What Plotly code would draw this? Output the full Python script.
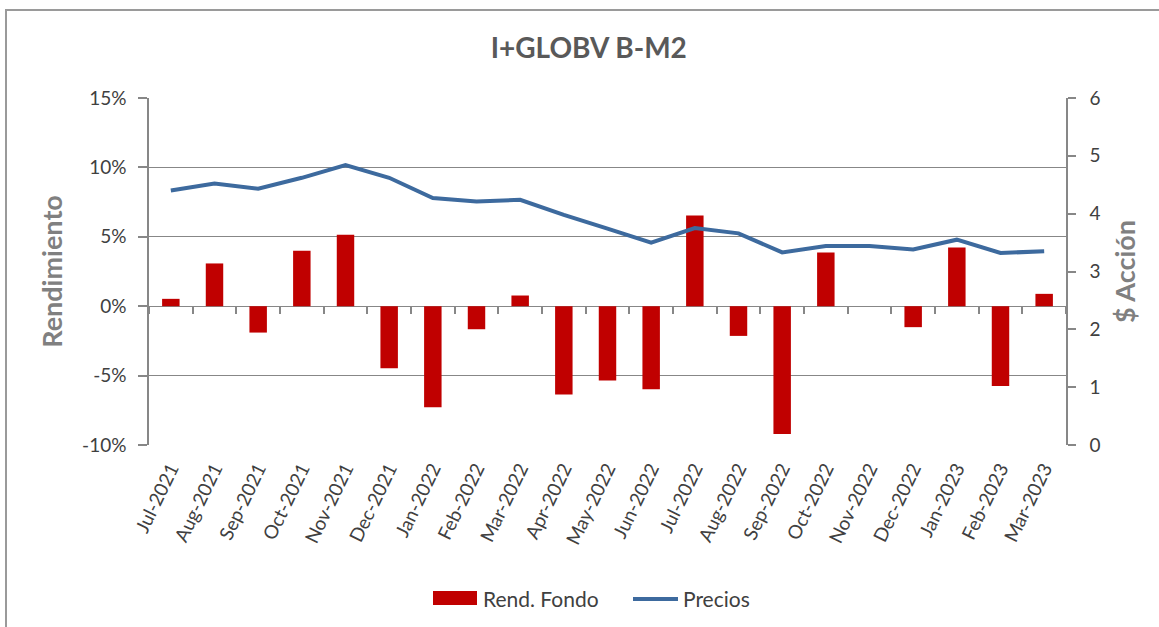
import plotly.graph_objects as go

months = ["Jul-2021", "Aug-2021", "Sep-2021", "Oct-2021", "Nov-2021", "Dec-2021",
          "Jan-2022", "Feb-2022", "Mar-2022", "Apr-2022", "May-2022", "Jun-2022",
          "Jul-2022", "Aug-2022", "Sep-2022", "Oct-2022", "Nov-2022", "Dec-2022",
          "Jan-2023", "Feb-2023", "Mar-2023"]
rend_fondo = [0.53, 3.08, -1.90, 3.99, 5.14, -4.47, -7.28, -1.66, 0.77, -6.37, -5.36,
              -5.99, 6.54, -2.14, -9.21, 3.87, 0.0, -1.51, 4.23, -5.75, 0.89]
precios = [4.40, 4.52, 4.43, 4.62, 4.84, 4.62, 4.27, 4.21, 4.24, 3.98, 3.74,
           3.50, 3.75, 3.66, 3.33, 3.44, 3.44, 3.38, 3.55, 3.32, 3.35]
left_ticks = [-10, -5, 0, 5, 10, 15]
left_labels = ["-10%", "-5%", "0%", "5%", "10%", "15%"]
right_ticks = [0, 1, 2, 3, 4, 5, 6]
series_names = ["Rend. Fondo", "Precios"]

FONT = "Lato"
GRID = "#878787"
TXT = "#404040"
RED = "#C00000"
BLUE = "#3D6A9E"

# plot area in pixels (used only to place decorations: frame and legend)
PL, PW, PT, PH = 149, 917, 98, 347
def px(x):
    return (x - PL) / PW
def py(y):
    return (PT + PH - y) / PH

fig = go.Figure()
fig.add_trace(go.Bar(x=months, y=[v / 100 for v in rend_fondo], name=series_names[0],
                     marker=dict(color=RED, line=dict(width=0)), width=0.4,
                     yaxis="y", xaxis="x", showlegend=False))
fig.add_trace(go.Scatter(x=months, y=precios, name=series_names[1], mode="lines",
                         line=dict(color=BLUE, width=4), yaxis="y2", xaxis="x",
                         showlegend=False))
# invisible trace to drive the category tick marks on the zero line
fig.add_trace(go.Scatter(x=months, y=[0] * len(months), mode="none", showlegend=False,
                         hoverinfo="skip", xaxis="x2", yaxis="y"))

fig.update_layout(
    width=1159, height=627,
    paper_bgcolor="white", plot_bgcolor="white",
    margin=dict(l=PL, r=1159 - PL - PW, t=PT, b=627 - PT - PH),
    font=dict(family=FONT, color=TXT, size=18),
    title=dict(text="<b>I+GLOBV B-M2</b>", x=0.508, xanchor="center", y=0.923, yanchor="middle",
               font=dict(family=FONT, size=28, color="#595959")),
    xaxis=dict(type="category", categoryorder="array", categoryarray=months,
               tickangle=-64, showgrid=False, showline=False, ticks="",
               ticklabelstandoff=8,
               tickfont=dict(family=FONT, size=19, color=TXT), range=[-0.5, 20.5]),
    xaxis2=dict(type="category", categoryorder="array", categoryarray=months,
                overlaying="x", anchor="free", position=0.4, side="bottom",
                showticklabels=False, showgrid=False, showline=False,
                ticks="outside", tickson="boundaries", ticklen=7, tickcolor=GRID,
                tickwidth=1.5, range=[-0.5, 20.5]),
    yaxis=dict(range=[-0.10, 0.15], tickvals=[v / 100 for v in left_ticks], ticktext=left_labels,
               showgrid=True, gridcolor=GRID, gridwidth=1.3, zeroline=False,
               showline=True, linecolor=GRID, linewidth=1.5,
               ticks="outside", ticklen=9, tickcolor=GRID, tickwidth=1.5,
               ticklabelstandoff=8,
               tickfont=dict(family=FONT, size=19, color=TXT),
               title=dict(text="<b>Rendimiento</b>", standoff=12,
                          font=dict(family=FONT, size=27, color="#808080"))),
    yaxis2=dict(range=[0, 6], tickvals=right_ticks, overlaying="y", side="right",
                showgrid=False, zeroline=False, showline=True, linecolor=GRID, linewidth=1.5,
                ticks="outside", ticklen=8, tickcolor=GRID, tickwidth=1.5,
                ticklabelstandoff=10,
                tickfont=dict(family=FONT, size=19, color=TXT),
                title=dict(text="<b>$ Acción</b>", standoff=17,
                           font=dict(family=FONT, size=27, color="#808080"))),
    showlegend=False,
)

# chart border (Excel chart area frame)
fig.add_shape(type="rect", xref="paper", yref="paper",
              x0=px(6), x1=px(1200), y0=py(700), y1=py(10),
              line=dict(color="#9a9a9a", width=2), fillcolor="rgba(0,0,0,0)", layer="below")

# legend (Excel style: wide swatch for the bars, line sample for the prices)
fig.add_shape(type="rect", xref="paper", yref="paper",
              x0=px(433), x1=px(477), y0=py(605), y1=py(591),
              line=dict(width=0), fillcolor=RED)
fig.add_shape(type="line", xref="paper", yref="paper",
              x0=px(633), x1=px(678), y0=py(599), y1=py(599),
              line=dict(color=BLUE, width=4))
fig.add_annotation(text=series_names[0], xref="paper", yref="paper", x=px(481), y=py(598),
                   xanchor="left", yanchor="middle", showarrow=False,
                   font=dict(family=FONT, size=21, color=TXT))
fig.add_annotation(text=series_names[1], xref="paper", yref="paper", x=px(681), y=py(598),
                   xanchor="left", yanchor="middle", showarrow=False,
                   font=dict(family=FONT, size=21, color=TXT))

fig.write_html("out.html", config={"displayModeBar": False},
               post_script="document.body.style.margin='0';document.body.style.padding='0';")
